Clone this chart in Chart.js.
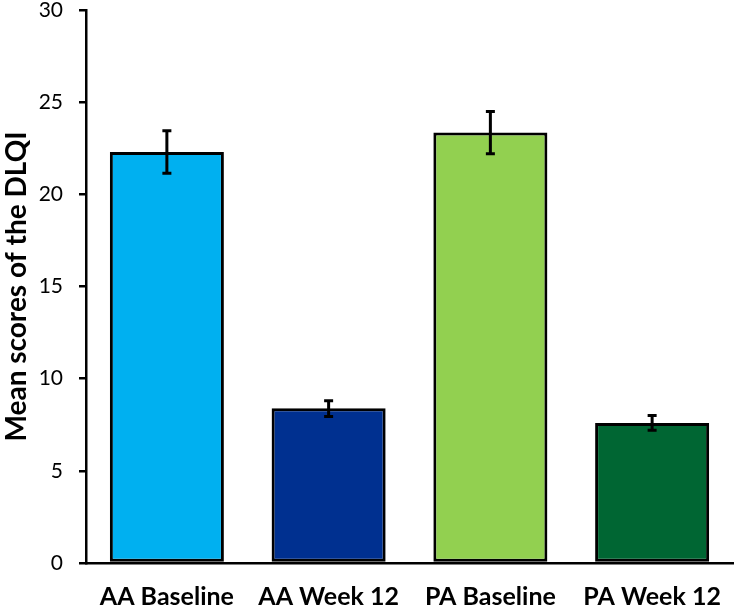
<!DOCTYPE html>
<html>
<head>
<meta charset="utf-8">
<script src="https://cdn.jsdelivr.net/npm/chart.js@4"></script>
<style>
  html, body { margin: 0; padding: 0; background: #fff; }
  #wrap { width: 735px; height: 611px; }
</style>
</head>
<body>
<div id="wrap"><canvas id="c" width="735" height="611"></canvas></div>
<script>
const categories = ["AA Baseline", "AA Week 12", "PA Baseline", "PA Week 12"];
const meanScores = [22.3, 8.4, 23.35, 7.6];
const errorLow = [21.15, 7.95, 22.2, 7.2];
const errorHigh = [23.45, 8.8, 24.5, 8.0];
const barColors = ["#00B0F0", "#003090", "#92D050", "#006633"];
const yTicks = [0, 5, 10, 15, 20, 25, 30];

const errorBarPlugin = {
  id: "errorBars",
  afterDatasetsDraw(chart) {
    const ctx = chart.ctx;
    const meta = chart.getDatasetMeta(0);
    const y = chart.scales.y;
    ctx.save();
    ctx.strokeStyle = "#000";
    ctx.lineWidth = 3;
    meta.data.forEach((bar, i) => {
      const x = bar.x;
      const yl = y.getPixelForValue(errorLow[i]);
      const yh = y.getPixelForValue(errorHigh[i]);
      const cap = 4.5;
      ctx.beginPath();
      ctx.moveTo(x, yl); ctx.lineTo(x, yh);
      ctx.moveTo(x - cap, yl); ctx.lineTo(x + cap, yl);
      ctx.moveTo(x - cap, yh); ctx.lineTo(x + cap, yh);
      ctx.stroke();
    });
    ctx.restore();
  }
};

new Chart(document.getElementById("c"), {
  type: "bar",
  data: {
    labels: categories,
    datasets: [{
      data: meanScores,
      backgroundColor: barColors,
      borderColor: "#000",
      borderWidth: 3,
      borderSkipped: false,
      categoryPercentage: 1.0,
      barPercentage: 0.705
    }]
  },
  options: {
    responsive: false,
    animation: false,
    layout: { padding: { top: 10, right: 2, left: 0, bottom: 0 } },
    plugins: { legend: { display: false }, tooltip: { enabled: false } },
    scales: {
      x: {
        grid: { display: false },
        border: { display: true, color: "#000", width: 2.5 },
        ticks: {
          color: "#000",
          padding: 11,
          font: { family: "Lato", size: 25, weight: "bold" },
          maxRotation: 0,
          autoSkip: false
        },
        afterFit(scale) {
          scale.height = 48;
          scale.paddingLeft = 0; scale.paddingRight = 0;
        }
      },
      y: {
        min: 0,
        max: 30,
        afterBuildTicks(scale) { scale.ticks = yTicks.map(v => ({ value: v })); },
        grid: { drawOnChartArea: false, drawTicks: true, tickLength: 7, color: "#000", lineWidth: 2.5 },
        border: { display: true, color: "#000", width: 2.5 },
        ticks: {
          color: "#000",
          padding: 16,
          font: { family: "Lato", size: 21 }
        },
        title: {
          display: true,
          text: "Mean scores of the DLQI",
          color: "#000",
          font: { family: "Lato", size: 28, weight: "bold" },
          padding: { top: 0, bottom: 0 }
        },
        afterFit(scale) {
          scale.width = 86;
          scale.paddingTop = 0; scale.paddingBottom = 0;
        }
      }
    }
  },
  plugins: [errorBarPlugin]
});
</script>
</body>
</html>
